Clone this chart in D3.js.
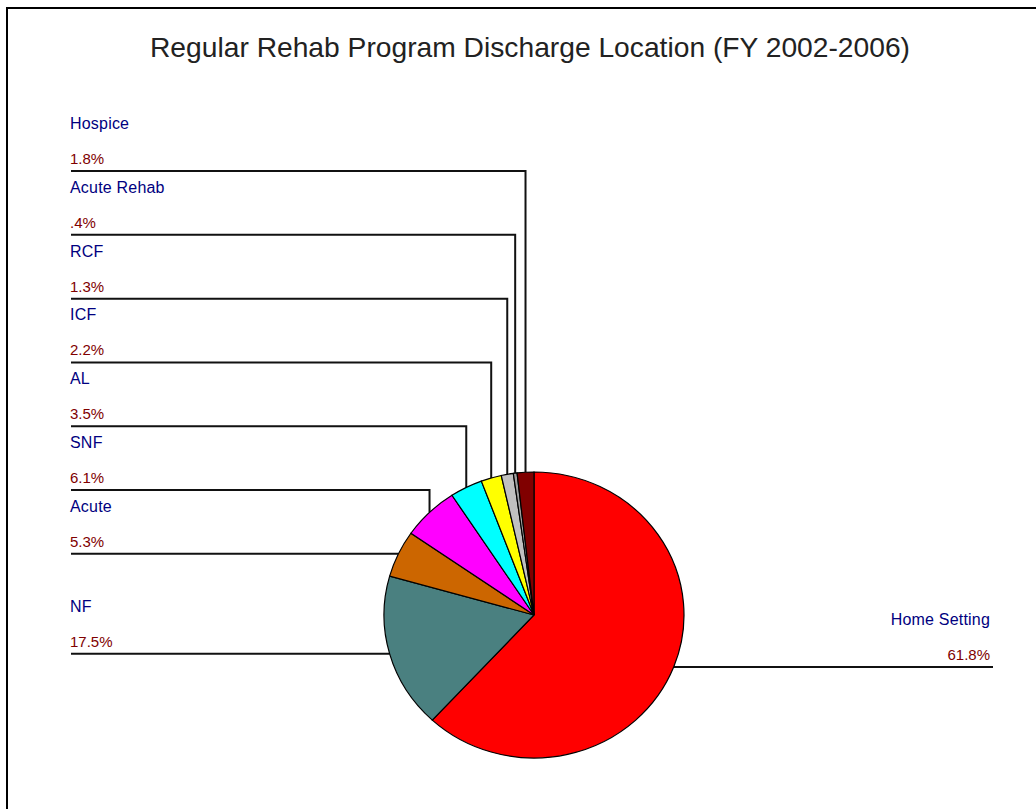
<!DOCTYPE html>
<html>
<head>
<meta charset="utf-8">
<script src="https://d3js.org/d3.v7.min.js"></script>
<style>
  body { margin: 0; background: #fff; }
  text { font-family: Arial, "Liberation Sans", sans-serif; }
</style>
</head>
<body>
<div id="visu"></div>
<script>

// donnees (ordre horaire depuis midi)
var categories = ["Home Setting", "NF", "Acute", "SNF", "AL", "ICF", "RCF", "Acute Rehab", "Hospice"]
var valeurs = [61.8, 17.5, 5.3, 6.1, 3.5, 2.2, 1.3, 0.4, 1.8]
var etiquettes = ["61.8%", "17.5%", "5.3%", "6.1%", "3.5%", "2.2%", "1.3%", ".4%", "1.8%"]
var couleursListe = ["#ff0000", "#4a8080", "#cc6600", "#ff00ff", "#00ffff", "#ffff00", "#c0c0c0", "#a0a0a0", "#800000"]

var largeur = 1036,
    hauteur = 809,
    cx = 534, cy = 615,
    rx = 150, ry = 143,   // le camembert est un peu ecrase
    ecart = 63.8

var svg = d3.select("#visu")
  .append("svg")
    .attr("width", largeur)
    .attr("height", hauteur)

// cadre
svg.append("path")
  .attr("d", "M7,809 V8 H1036")
  .attr("fill", "none")
  .attr("stroke", "#000")
  .attr("stroke-width", 2)

svg.append("text")
  .attr("x", 530)
  .attr("y", 57)
  .attr("text-anchor", "middle")
  .style("font-size", "28px")
  .attr("textLength", 760)
  .attr("lengthAdjust", "spacingAndGlyphs")
  .attr("fill", "#222")
  .text("Regular Rehab Program Discharge Location (FY 2002-2006)")

var couleurs = d3.scaleOrdinal()
  .domain(categories)
  .range(couleursListe)

var donnees = categories.map((c, i) => ({genre: c, valeur: valeurs[i], etiq: etiquettes[i]}))

var camembert = d3.pie()
  .value((d) => d.valeur)
  .sort(null)

var parts = camembert(donnees)

// point au milieu de chaque part, sur le bord
parts.forEach(function(p) {
  var a = (p.startAngle + p.endAngle) / 2
  p.px = cx + rx * Math.sin(a)
  p.py = cy - ry * Math.cos(a)
  p.droite = Math.sin(a) > 0
})

// position verticale des etiquettes a gauche : empilees de bas en haut
var gauche = parts.filter((p) => !p.droite).sort((a, b) => b.py - a.py)
var precedent = Infinity
gauche.forEach(function(p) {
  p.ly = Math.min(p.py, precedent - ecart)
  precedent = p.ly
})
parts.filter((p) => p.droite).forEach((p) => { p.ly = p.py })

var g = svg.append("g")

// lignes de rappel (derriere le camembert)
g.selectAll("path.rappel")
  .data(parts)
  .enter()
  .append("path")
    .attr("class", "rappel")
    .attr("d", function(p) {
      if (p.droite) return "M" + p.px + "," + p.ly + " H993"
      return "M71," + p.ly + " H" + p.px + " V" + p.py
    })
    .attr("fill", "none")
    .attr("stroke", "#111")
    .attr("stroke-width", 2)

var arc = d3.arc().innerRadius(0).outerRadius(rx)

g.selectAll("path.part")
  .data(parts)
  .enter()
  .append("path")
    .attr("class", "part")
    .attr("d", arc)
    .attr("transform", "translate(" + cx + "," + cy + ") scale(1," + (ry / rx) + ")")
    .attr("fill", (d) => couleurs(d.data.genre))
    .attr("stroke", "#000")
    .attr("stroke-width", 1.2)

// noms
g.selectAll("text.nom")
  .data(parts)
  .enter()
  .append("text")
    .attr("class", "nom")
    .attr("x", (p) => p.droite ? 990 : 70)
    .attr("y", (p) => p.ly - 42)
    .attr("text-anchor", (p) => p.droite ? "end" : "start")
    .attr("fill", "#000080")
    .style("font-size", "16px")
    .style("letter-spacing", "0.2px")
    .text((p) => p.data.genre)

// pourcentages
g.selectAll("text.pct")
  .data(parts)
  .enter()
  .append("text")
    .attr("class", "pct")
    .attr("x", (p) => p.droite ? 990 : 70)
    .attr("y", (p) => p.ly - 7)
    .attr("text-anchor", (p) => p.droite ? "end" : "start")
    .attr("fill", "#800000")
    .style("font-size", "15px")
    .text((p) => p.data.etiq)

</script>
</body>
</html>
